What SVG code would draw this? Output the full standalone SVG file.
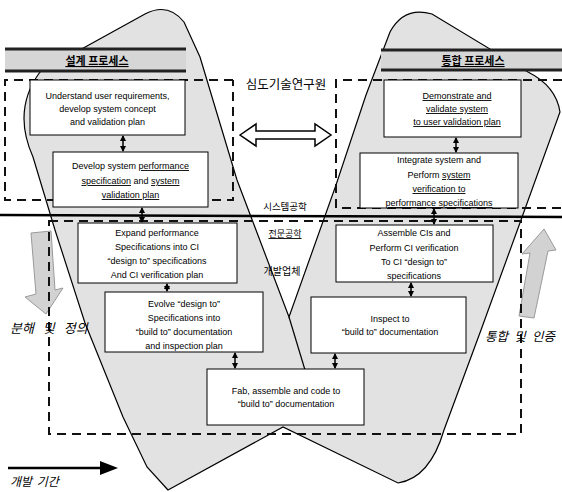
<svg xmlns="http://www.w3.org/2000/svg" width="562" height="492" viewBox="0 0 562 492">
<defs>
<style>
.bx{fill:#fff;stroke:#000;stroke-width:1}
.t{font-family:"Liberation Sans",Arial,sans-serif;font-size:9px;fill:#000;text-anchor:middle}
.k{font-family:"Noto Sans CJK KR","Noto Sans",sans-serif;fill:#000}
.u{text-decoration:underline}
.dash{fill:none;stroke:#111;stroke-width:2;stroke-dasharray:9 6}
.cn{stroke:#000;stroke-width:1.5;marker-start:url(#ah);marker-end:url(#ah)}
.gray{fill:#d2d2d2;stroke:#9a9a9a;stroke-width:1}
</style>
<marker id="ah" viewBox="0 0 6 6" refX="5" refY="3" markerWidth="6" markerHeight="6" markerUnits="userSpaceOnUse" orient="auto-start-reverse">
<path d="M0,0 L6,3 L0,6 z" fill="#000"/>
</marker>
</defs>
<rect width="562" height="492" fill="#fff"/>

<g id="band">
<path d="M168,490 L147,467 L123,417 L85,323 L55,230 L33,157 Q12,110 40,72 L145,14 Q168,2 184,22 L200,57 L237,180 L289,317 L336,185 L366,95 L390,32 Q404,6 432,14 L528,72 Q556,86 560,112 L521,220 L481,330 L444,430 Q430,478 398,483 L283,427 Z" fill="#e2e2e2" stroke="#000" stroke-width="1.2"/>
<path d="M289,317 L305,370" fill="none" stroke="#000" stroke-width="1.2"/>
</g>

<g id="header-left">
<rect x="5" y="49" width="181" height="22" fill="#d6d6d6"/>
<path d="M5,49 H186 M5,71 H186" stroke="#222" stroke-width="3"/>
<text class="k u" x="97" y="65" font-size="11" font-weight="bold" text-anchor="middle">설계 프로세스</text>
</g>
<g id="header-right">
<rect x="381" y="50" width="181" height="20" fill="#d6d6d6"/>
<path d="M381,50 H562 M381,70 H562" stroke="#222" stroke-width="3"/>
<text class="k u" x="473" y="65" font-size="11" font-weight="bold" text-anchor="middle">통합 프로세스</text>
</g>

<g id="gray-arrows">
<polygon class="gray" points="31,233 51,231 55,290 63,288 46,314 25,297 36,294"/>
<polygon class="gray" points="544,229 556,250 548,251 534,318 519,316 530,253 522,254"/>
</g>

<g id="double-arrow">
<polygon points="240,135 256,124 256,131 315,131 315,124 331,135 315,146 315,139 256,139 256,146" fill="#fff" stroke="#000" stroke-width="1.5"/>
</g>

<g id="regions">
<path class="dash" d="M233,80 H5 V200 H233 V80"/>
<path class="dash" d="M562,80 H336 V208 H562"/>
<rect class="dash" x="49" y="221" width="472" height="213"/>
<path d="M0,215 L562,217" stroke="#000" stroke-width="2.5"/>
<text class="k" x="286" y="89" font-size="12.5" text-anchor="middle">심도기술연구원</text>
<text class="k" x="285" y="210" font-size="9.5" text-anchor="middle">시스템공학</text>
<text class="k u" x="285" y="237" font-size="9" text-anchor="middle">전문공학</text>
<text class="k" x="282" y="275" font-size="10" text-anchor="middle">개발업체</text>
<text class="k" x="10" y="333" font-size="13" font-style="italic" word-spacing="6">분해 및 정의</text>
<text class="k" x="485" y="341" font-size="12.5" font-style="italic" word-spacing="3.5">통합 및 인증</text>
</g>

<g id="time-axis">
<path d="M8,468 H103" stroke="#000" stroke-width="2.5"/>
<polygon points="100,461 118,468 100,475" fill="#000"/>
<text class="k" x="10" y="486" font-size="12" font-style="italic" word-spacing="2">개발 기간</text>
</g>

<g id="n1">
<rect class="bx" x="30" y="80" width="155" height="55"/>
<text class="t" x="107.5" y="99">Understand user requirements,</text>
<text class="t" x="107.5" y="112">develop system concept</text>
<text class="t" x="107.5" y="125">and validation plan</text>
</g>
<g id="n2">
<rect class="bx" x="53" y="152" width="155" height="55"/>
<text class="t" x="130.5" y="169">Develop system <tspan class="u">performance</tspan></text>
<text class="t" x="130.5" y="184"><tspan class="u">specification</tspan> and <tspan class="u">system</tspan></text>
<text class="t" x="130.5" y="198"><tspan class="u">validation plan</tspan></text>
</g>
<g id="n3">
<rect class="bx" x="78" y="223" width="159" height="60"/>
<text class="t" x="157" y="236">Expand performance</text>
<text class="t" x="157" y="250">Specifications into CI</text>
<text class="t" x="157" y="264">“design to” specifications</text>
<text class="t" x="157" y="278">And CI verification plan</text>
</g>
<g id="n4">
<rect class="bx" x="105" y="292" width="158" height="60"/>
<text class="t" x="184" y="307">Evolve “design to”</text>
<text class="t" x="184" y="321">Specifications into</text>
<text class="t" x="184" y="335">“build to” documentation</text>
<text class="t" x="184" y="349">and inspection plan</text>
</g>
<g id="n5">
<rect class="bx" x="207" y="369" width="157" height="56"/>
<text class="t" x="286" y="394">Fab, assemble and code to</text>
<text class="t" x="286" y="407">“build to” documentation</text>
</g>
<g id="n6">
<rect class="bx" x="384" y="80" width="137" height="57"/>
<text class="t" x="457" y="99"><tspan class="u">Demonstrate and</tspan></text>
<text class="t" x="457" y="112"><tspan class="u">validate system</tspan></text>
<text class="t" x="457" y="125"><tspan class="u">to user validation plan</tspan></text>
</g>
<g id="n7">
<rect class="bx" x="360" y="153" width="158" height="55"/>
<text class="t" x="439" y="163">Integrate system and</text>
<text class="t" x="439" y="178">Perform <tspan class="u">system</tspan></text>
<text class="t" x="439" y="192"><tspan class="u">verification to</tspan></text>
<text class="t" x="439" y="206"><tspan class="u">performance specifications</tspan></text>
</g>
<g id="n8">
<rect class="bx" x="336" y="225" width="157" height="57"/>
<text class="t" x="414" y="236">Assemble CIs and</text>
<text class="t" x="414" y="251">Perform CI verification</text>
<text class="t" x="414" y="265">To CI “design to”</text>
<text class="t" x="414" y="279">specifications</text>
</g>
<g id="n9">
<rect class="bx" x="311" y="297" width="155" height="56"/>
<text class="t" x="390" y="322">Inspect to</text>
<text class="t" x="390" y="335">“build to” documentation</text>
</g>

<g id="connectors">
<line class="cn" x1="123" y1="136" x2="123" y2="151"/>
<line class="cn" x1="142" y1="208" x2="142" y2="222"/>
<line class="cn" x1="167" y1="284" x2="167" y2="291"/>
<line class="cn" x1="235" y1="353" x2="235" y2="368"/>
<line class="cn" x1="335" y1="354" x2="335" y2="368"/>
<line class="cn" x1="411" y1="283" x2="411" y2="296"/>
<line class="cn" x1="434" y1="209" x2="434" y2="224"/>
<line class="cn" x1="456" y1="138" x2="456" y2="152"/>
</g>
</svg>
